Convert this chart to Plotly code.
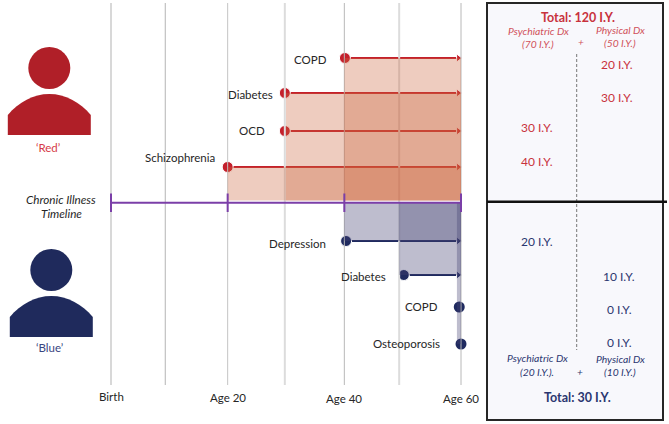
import plotly.graph_objects as go

# ---------- data ----------
grid_ages = [0, 9.3, 20, 29.8, 40, 49.4, 60]
grid_widths = [2, 1, 1, 2, 1, 2, 1]
grid_colors = ["#d8d8d8", "#b4b4b4", "#c4c4c4", "#dcdcdc", "#b8b8b8", "#dcdcdc", "#b8b8b8"]
timeline_ticks = [0, 20, 40, 60]
axis_labels = ["Birth", "Age 20", "Age 40", "Age 60"]
axis_label_y = [396, 397, 398, 398]
end_age = 60

red_conditions = ["COPD", "Diabetes", "OCD", "Schizophrenia"]
red_onset = [40.1, 29.8, 29.8, 20]
red_rows = [58, 93, 131, 167]
red_label_x = [310.5, 250.5, 252, 180]
red_label_y = [59, 94, 130, 157]
red_band_onset = [40, 30, 20]
red_band_top = [58, 93, 167]

blue_conditions = ["Depression", "Diabetes", "COPD", "Osteoporosis"]
blue_onset = [40.3, 50.2, 59.7, 60]
blue_rows = [241, 275, 307, 344]
blue_label_x = [297, 363, 421, 406]
blue_label_y = [243, 276, 306, 343]
blue_band_onset = [40, 49.4, 59.3]
blue_band_bottom = [241, 275, 344]

red_iy = [("20 I.Y.", 617, 64), ("30 I.Y.", 617, 97), ("30 I.Y.", 537, 127), ("40 I.Y.", 537, 161)]
blue_iy = [("20 I.Y.", 537, 241), ("10 I.Y.", 619, 276), ("0 I.Y.", 619, 309), ("0 I.Y.", 619, 342)]

RED = "#c4202c"
NAVY = "#1f2a5f"
RED_T = "#c8323c"
NAVY_T = "#2b3670"
PURPLE = "#7b3fa8"
FONT = "Lato"

PX_PER_YEAR = 350 / 60
BIRTH_PX = 111
W, H = 669, 424

fig = go.Figure()
shapes = []
ann = []


def text(s, x, y, size=11.5, color="#262626", bold=False, italic=False):
    t = f"<b>{s}</b>" if bold else s
    t = f"<i>{t}</i>" if italic else t
    ann.append(dict(text=t, x=x, y=y, xref="x", yref="y", xanchor="center", yanchor="middle",
                    showarrow=False, font=dict(family=FONT, size=size, color=color)))


# grid
for a, w, c in zip(grid_ages, grid_widths, grid_colors):
    shapes.append(dict(type="line", xref="x2", yref="y", x0=a, x1=a, y0=3, y1=385,
                       line=dict(color=c, width=w)))

# bands
for a, top in zip(red_band_onset, red_band_top):
    shapes.append(dict(type="rect", xref="x2", yref="y", x0=a, x1=end_age, y0=top, y1=200.5,
                       fillcolor="rgba(203,100,61,0.33)", line_width=0))
for a, bot in zip(blue_band_onset, blue_band_bottom):
    shapes.append(dict(type="rect", xref="x2", yref="y", x0=a, x1=end_age, y0=203, y1=bot,
                       fillcolor="rgba(70,65,115,0.35)", line_width=0))

# timeline
shapes.append(dict(type="line", xref="x2", yref="y", x0=timeline_ticks[0], x1=timeline_ticks[-1],
                   y0=202.7, y1=202.7, line=dict(color=PURPLE, width=2)))
for a in timeline_ticks:
    shapes.append(dict(type="line", xref="x2", yref="y", x0=a, x1=a, y0=193.5, y1=212,
                       line=dict(color=PURPLE, width=2)))


# people
def person(cx, cy, body_top, color):
    shapes.append(dict(type="circle", xref="x", yref="y", x0=cx - 21, x1=cx + 21, y0=cy - 21, y1=cy + 21,
                       fillcolor=color, line_width=0))
    l, r = cx - 41.5, cx + 41.5
    b = body_top + 41
    s = body_top + 21
    shapes.append(dict(type="path", xref="x", yref="y", fillcolor=color, line_width=0,
                       path=f"M {l} {b} L {l} {s} C {l+11} {body_top+8} {cx-16} {body_top} {cx} {body_top} "
                            f"C {cx+16} {body_top} {r-11} {body_top+8} {r} {s} L {r} {b} Z"))


person(49.3, 68, 94, "#b01f28")
person(51.3, 270, 296, "#1f2a5c")

# right panel
shapes.append(dict(type="rect", xref="x", yref="y", x0=487, x1=663, y0=3, y1=420,
                   fillcolor="#f8f8fc", line=dict(color="#262626", width=2)))
shapes.append(dict(type="line", xref="x", yref="y", x0=576.7, x1=576.7, y0=54, y1=350,
                   line=dict(color="#777777", width=1, dash="3px,2px")))
shapes.append(dict(type="line", xref="x", yref="y", x0=487, x1=667, y0=201.7, y1=201.7,
                   line=dict(color="#111111", width=2.5)))


# condition arrows
def arrows(onset, rows, color):
    for a, r in zip(onset, rows):
        if a >= end_age - 0.5:
            fig.add_trace(go.Scatter(x=[a], y=[r], xaxis="x2", yaxis="y", mode="markers",
                                     marker=dict(color=color, size=11, opacity=1),
                                     showlegend=False, hoverinfo="skip"))
        else:
            fig.add_trace(go.Scatter(x=[a, end_age - 0.45], y=[r, r], xaxis="x2", yaxis="y", mode="lines+markers",
                                     line=dict(color=color, width=2.2),
                                     marker=dict(color=color, size=[11, 7], opacity=1,
                                                 symbol=["circle", "triangle-right"]),
                                     showlegend=False, hoverinfo="skip"))


arrows(red_onset, red_rows, RED)
arrows(blue_onset, blue_rows, NAVY)

# labels
for s, x, y in zip(red_conditions, red_label_x, red_label_y):
    text(s, x, y)
for s, x, y in zip(blue_conditions, blue_label_x, blue_label_y):
    text(s, x, y)
for s, a, y in zip(axis_labels, timeline_ticks, axis_label_y):
    text(s, BIRTH_PX + a * PX_PER_YEAR, y)
text("Chronic Illness", 60.5, 199, size=11.7, italic=True)
text("Timeline", 61, 213, size=11.7, italic=True)
text("‘Red’", 48, 147, size=11.5, color="#d63a47")
text("‘Blue’", 49, 347, size=11.5, color="#3a4580")

text("Total: 120 I.Y.", 578, 17, size=12.5, color=RED_T, bold=True)
text("Psychiatric Dx", 538, 31, size=10.3, color="#d0505a", italic=True)
text("(70 I.Y.)", 538, 44, size=10.3, color="#d0505a", italic=True)
text("+", 580.5, 42, size=10, color="#d0505a", italic=True)
text("Physical Dx", 620, 30, size=10.3, color="#d0505a", italic=True)
text("(50 I.Y.)", 620, 43, size=10.3, color="#d0505a", italic=True)
for s, x, y in red_iy:
    text(s, x, y, size=12, color=RED_T)
for s, x, y in blue_iy:
    text(s, x, y, size=12, color=NAVY_T)
text("Psychiatric Dx", 537, 358, size=10.3, color=NAVY_T, italic=True)
text("(20 I.Y.).", 537, 372, size=10.3, color=NAVY_T, italic=True)
text("+", 580, 372, size=10, color=NAVY_T, italic=True)
text("Physical Dx", 620, 359, size=10.3, color=NAVY_T, italic=True)
text("(10 I.Y.)", 620, 372, size=10.3, color=NAVY_T, italic=True)
text("Total: 30 I.Y.", 577, 397, size=12.5, color=NAVY_T, bold=True)

fig.update_layout(
    width=W, height=H, margin=dict(l=0, r=0, t=0, b=0), autosize=False,
    paper_bgcolor="white", plot_bgcolor="white", showlegend=False,
    xaxis=dict(range=[0, W], visible=False, fixedrange=True),
    xaxis2=dict(range=[-BIRTH_PX / PX_PER_YEAR, (W - BIRTH_PX) / PX_PER_YEAR], overlaying="x", anchor="y",
                visible=False, fixedrange=True),
    yaxis=dict(range=[H, 0], visible=False, fixedrange=True),
    shapes=shapes, annotations=ann,
)

fig.write_html("out.html", config=dict(displayModeBar=False),
               post_script="document.body.style.margin='0';document.body.style.overflow='hidden';")
